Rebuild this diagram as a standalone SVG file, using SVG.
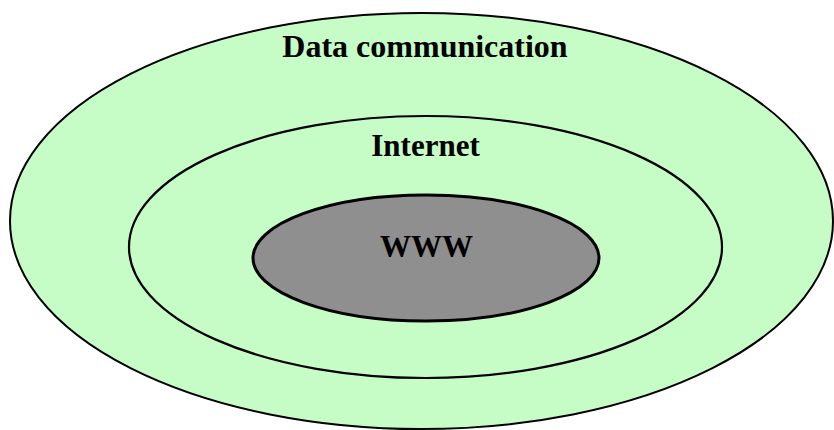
<svg xmlns="http://www.w3.org/2000/svg" width="834" height="430" viewBox="0 0 834 430">
<style>
.ring{fill:#c6fdc6;stroke:#000}
.lbl{font-family:"Liberation Serif","Times New Roman",serif;font-weight:bold;fill:#000;text-anchor:middle}
</style>
<rect width="834" height="430" fill="#ffffff"/>
<g id="data-communication">
<ellipse class="ring" cx="421.5" cy="221" rx="411.5" ry="208" stroke-width="2"/>
<text class="lbl" x="425" y="57" font-size="32">Data communication</text>
</g>
<g id="internet">
<ellipse class="ring" cx="425.5" cy="247" rx="296.5" ry="131" stroke-width="2.2"/>
<text class="lbl" x="425.5" y="156" font-size="31">Internet</text>
</g>
<g id="www">
<ellipse cx="426" cy="258" rx="173" ry="63" fill="#8f8f8f" stroke="#000" stroke-width="3"/>
<text class="lbl" x="426.5" y="257" font-size="31">WWW</text>
</g>
<g id="connectors"/>
</svg>
